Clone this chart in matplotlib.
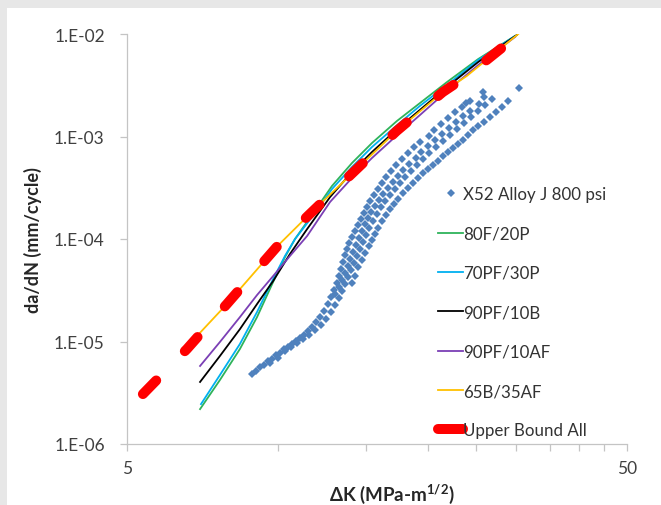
import matplotlib.pyplot as plt
from matplotlib.lines import Line2D
from matplotlib.patches import Rectangle

plt.rcParams['font.family'] = ['Lato', 'DejaVu Sans']
plt.rcParams['mathtext.fontset'] = 'custom'
plt.rcParams['mathtext.rm'] = 'Lato'
plt.rcParams['mathtext.bf'] = 'Lato:bold'

# X52 Alloy J 800 psi test data, delta K (MPa-m^1/2) and da/dN (mm/cycle)
x52_dk = [
    8.89, 9.06, 9.23, 9.40, 9.58, 9.75, 9.93, 10.12, 10.31, 10.50,
    10.69, 10.89, 11.09, 11.30, 11.51, 11.72, 11.94, 12.16, 12.39, 12.62,
    12.80, 12.98, 13.16, 13.27, 13.39, 13.52, 13.64, 13.77, 13.89, 14.09,
    14.29, 14.48, 14.69, 14.89, 15.10, 15.31, 15.59, 15.88, 16.18, 16.48,
    16.87, 17.26, 17.74, 18.24, 18.75, 19.27, 20.08, 20.56, 21.23, 21.92,
    22.65, 23.39, 24.26,
    13.04, 13.27, 13.45, 13.64, 13.83, 13.96, 14.15, 14.35, 14.55, 14.76,
    14.96, 15.17, 15.38, 15.67, 15.96, 16.25, 16.64, 17.02, 17.42, 17.83,
    18.33, 18.92, 19.36, 19.99, 20.65, 21.33, 22.03, 22.75, 23.49, 24.26,
    25.29, 25.88,
    9.66, 10.02, 10.36, 10.64, 10.94, 11.25, 11.56, 11.88, 12.22, 12.50,
    12.80, 13.04, 13.27, 13.45, 13.64, 13.83, 14.02, 14.22, 14.42, 14.62,
    14.82, 15.03, 15.24, 15.52, 15.81, 16.10, 16.40, 16.79, 17.18, 17.58,
    17.99, 18.49, 19.01, 19.54, 20.09, 20.75, 21.43, 22.13, 22.85, 23.60,
    24.37, 25.18, 26.00, 26.85,
    14.09, 14.29, 14.48, 14.76, 14.96, 15.24, 15.45, 15.67, 15.88, 16.18,
    16.48, 16.79, 17.10, 17.42, 17.83, 18.24, 18.67, 19.10, 19.54, 19.99,
    20.46, 20.94, 21.43, 21.92, 22.44, 22.96, 23.49, 24.04, 24.60, 25.18,
    25.88, 26.60, 27.35, 28.12, 28.91, 30.41,
    25.77, 23.82,
]
x52_rate = [
    4.82e-6, 5.15e-6, 5.64e-6, 5.90e-6, 6.45e-6, 6.75e-6, 7.39e-6, 7.72e-6, 8.45e-6, 8.86e-6,
    9.48e-6, 1.01e-5, 1.08e-5, 1.15e-5, 1.26e-5, 1.39e-5, 1.55e-5, 1.73e-5, 1.98e-5, 2.32e-5,
    2.72e-5, 3.18e-5, 3.72e-5, 4.35e-5, 5.09e-5, 5.97e-5, 6.98e-5, 7.99e-5, 9.14e-5, 1.05e-4,
    1.20e-4, 1.37e-4, 1.57e-4, 1.79e-4, 2.05e-4, 2.34e-4, 2.68e-4, 3.07e-4, 3.52e-4, 4.03e-4,
    4.61e-4, 5.27e-4, 6.03e-4, 6.90e-4, 7.90e-4, 8.84e-4, 1.01e-3, 1.15e-3, 1.32e-3, 1.51e-3,
    1.73e-3, 1.94e-3, 2.22e-3,
    2.91e-5, 3.40e-5, 3.98e-5, 4.65e-5, 5.45e-5, 6.38e-5, 7.47e-5, 8.74e-5, 1.02e-4, 1.20e-4,
    1.40e-4, 1.60e-4, 1.83e-4, 2.09e-4, 2.40e-4, 2.74e-4, 3.15e-4, 3.60e-4, 4.12e-4, 4.71e-4,
    5.39e-4, 6.17e-4, 7.06e-4, 8.08e-4, 9.24e-4, 1.05e-3, 1.21e-3, 1.38e-3, 1.58e-3, 1.77e-3,
    2.07e-3, 2.42e-3,
    6.17e-6, 6.90e-6, 8.08e-6, 8.86e-6, 9.69e-6, 1.06e-5, 1.15e-5, 1.29e-5, 1.45e-5, 1.66e-5,
    1.94e-5, 2.27e-5, 2.66e-5, 3.11e-5, 3.64e-5, 4.26e-5, 4.98e-5, 5.83e-5, 6.83e-5, 7.99e-5,
    9.35e-5, 1.09e-4, 1.28e-4, 1.50e-4, 1.75e-4, 2.05e-4, 2.34e-4, 2.68e-4, 3.07e-4, 3.52e-4,
    4.03e-4, 4.61e-4, 5.27e-4, 6.03e-4, 6.90e-4, 7.90e-4, 9.03e-4, 1.03e-3, 1.18e-3, 1.35e-3,
    1.55e-3, 1.77e-3, 2.03e-3, 2.32e-3,
    3.72e-5, 4.35e-5, 5.33e-5, 6.24e-5, 7.30e-5, 8.55e-5, 9.78e-5, 1.12e-4, 1.28e-4, 1.50e-4,
    1.71e-4, 1.96e-4, 2.19e-4, 2.45e-4, 2.81e-4, 3.15e-4, 3.52e-4, 3.94e-4, 4.41e-4, 4.82e-4,
    5.27e-4, 5.76e-4, 6.46e-4, 7.06e-4, 7.72e-4, 8.45e-4, 9.24e-4, 1.03e-3, 1.15e-3, 1.27e-3,
    1.38e-3, 1.55e-3, 1.73e-3, 1.94e-3, 2.22e-3, 2.97e-3,
    2.71e-3, 2.12e-3,
]

# microstructure fits
dk_80f20p = [7.00, 7.67, 8.41, 9.10, 9.80, 10.35, 10.84, 11.72, 12.85, 14.09, 15.45, 17.34, 19.27, 21.83, 25.2, 29.85]
rate_80f20p = [2.19e-6, 4.21e-6, 8.45e-6, 1.73e-5, 3.81e-5, 6.67e-5, 1.00e-4, 1.72e-4, 3.29e-4, 5.51e-4, 8.64e-4, 1.42e-3, 2.12e-3, 3.40e-3, 5.70e-3, 9.56e-3]

dk_70pf30p = [7.03, 7.67, 8.41, 9.10, 9.80, 10.35, 10.84, 11.72, 12.85, 14.09, 15.45, 17.34, 19.27, 21.83, 25.2, 29.85]
rate_70pf30p = [2.45e-6, 4.71e-6, 9.46e-6, 1.94e-5, 4.07e-5, 6.83e-5, 1.00e-4, 1.64e-4, 3.07e-4, 5.04e-4, 7.90e-4, 1.29e-3, 1.99e-3, 3.18e-3, 5.58e-3, 9.56e-3]

dk_90pf10b = [7.00, 7.67, 8.41, 9.10, 9.80, 10.59, 11.46, 12.74, 14.09, 15.45, 17.34, 19.27, 21.83, 25.2, 30.1]
rate_90pf10b = [4.03e-6, 7.22e-6, 1.32e-5, 2.32e-5, 3.89e-5, 7.14e-5, 1.25e-4, 2.57e-4, 4.51e-4, 7.06e-4, 1.18e-3, 1.82e-3, 3.04e-3, 5.33e-3, 9.78e-3]

dk_90pf10af = [7.00, 7.67, 8.41, 9.10, 9.80, 10.59, 11.46, 12.74, 14.09, 15.45, 17.34, 19.27, 21.83, 25.2, 29.85]
rate_90pf10af = [5.77e-6, 9.89e-6, 1.73e-5, 2.84e-5, 4.35e-5, 6.83e-5, 1.07e-4, 2.30e-4, 3.94e-4, 6.17e-4, 1.03e-3, 1.62e-3, 2.78e-3, 4.98e-3, 9.35e-3]

dk_65b35af = [6.84, 7.92, 10.0, 11.5, 14.2, 17.3, 21.4, 23.9, 26.9, 30.3]
rate_65b35af = [1.08e-5, 2.32e-5, 8.55e-5, 1.68e-4, 4.51e-4, 1.13e-3, 2.71e-3, 3.89e-3, 6.23e-3, 1.00e-2]

dk_upper = [5.38, 6.59, 7.92, 10.0, 11.5, 14.2, 17.3, 21.4, 23.9, 29.9]
rate_upper = [3.07e-6, 8.45e-6, 2.32e-5, 8.55e-5, 1.68e-4, 4.51e-4, 1.13e-3, 2.71e-3, 3.89e-3, 9.35e-3]

labels = ['X52 Alloy J 800 psi', '80F/20P', '70PF/30P', '90PF/10B',
          '90PF/10AF', '65B/35AF', 'Upper Bound All']
yticks = [1e-6, 1e-5, 1e-4, 1e-3, 1e-2]
ytick_labels = ['1.E-06', '1.E-05', '1.E-04', '1.E-03', '1.E-02']
xticks = [5, 10, 15, 20, 25, 30, 35, 40, 45, 50]
xtick_labels = ['5', '', '', '', '', '', '', '', '', '50']

blue = '#4F81BD'
green = '#2eb35a'
cyan = '#00B0F0'
black = '#000000'
purple = '#7b3fb5'
gold = '#FFC000'
red = '#FF0000'

fig = plt.figure(figsize=(6.61, 5.06), dpi=100, facecolor='#e7e7e7')
fig.patches.append(Rectangle((7 / 661, 0), 1, 497 / 506, transform=fig.transFigure,
                             facecolor='white', edgecolor='none', zorder=-10))
ax = fig.add_axes([127 / 661, 61 / 506, 500 / 661, 410 / 506])
ax.set_xscale('log')
ax.set_yscale('log')

ms = 3.8
ax.plot(x52_dk, x52_rate, ls='none', marker='D', ms=ms, color=blue, mew=0)
lw = 1.3
ax.plot(dk_80f20p, rate_80f20p, color=green, lw=lw)
ax.plot(dk_70pf30p, rate_70pf30p, color=cyan, lw=lw)
ax.plot(dk_90pf10b, rate_90pf10b, color=black, lw=lw)
ax.plot(dk_90pf10af, rate_90pf10af, color=purple, lw=lw)
ax.plot(dk_65b35af, rate_65b35af, color=gold, lw=lw)
ax.plot(dk_upper, rate_upper, color=red, lw=7.2, ls=(0, (1.9, 4.1)),
        dash_capstyle='round')

ax.set_xlim(5, 50)
ax.set_ylim(1e-6, 1e-2)
ax.minorticks_off()
ax.set_xticks(xticks, xtick_labels)
ax.set_yticks(yticks, ytick_labels)

for side in ['top', 'right']:
    ax.spines[side].set_visible(False)
for side in ['left', 'bottom']:
    ax.spines[side].set_color('#c4c4c4')
    ax.spines[side].set_linewidth(0.9)
ax.tick_params(axis='both', which='major', color='#c4c4c4', length=5, width=0.9)
ax.tick_params(axis='y', labelsize=12.5, labelcolor='#404040', pad=11)
ax.tick_params(axis='x', labelsize=12.5, labelcolor='#404040', pad=6.5)

ax.set_ylabel('da/dN (mm/cycle)', fontsize=13, fontweight='bold', color='#262626')
ax.yaxis.set_label_coords(-0.17, 0.5)
ax.set_xlabel('ΔK (MPa-m$^{\\mathbf{1/2}}$)', fontsize=13.5, fontweight='bold', color='#262626')
ax.xaxis.set_label_coords(0.53, -0.09)

handles = [
    Line2D([], [], ls='none', marker='D', ms=ms, color=blue, mew=0),
    Line2D([], [], color=green, lw=lw),
    Line2D([], [], color=cyan, lw=lw),
    Line2D([], [], color=black, lw=lw),
    Line2D([], [], color=purple, lw=lw),
    Line2D([], [], color=gold, lw=lw),
    Line2D([], [], color=red, lw=7.2, solid_capstyle='round'),
]
leg = ax.legend(handles, labels, loc='upper left', bbox_to_anchor=(0.622, 0.629),
                frameon=False, fontsize=12.2, handlelength=1.48, handletextpad=0.0,
                labelspacing=1.38, borderpad=0, borderaxespad=0)
for t in leg.get_texts():
    t.set_color('#333333')

fig.savefig('out.png', dpi=100, facecolor=fig.get_facecolor())
